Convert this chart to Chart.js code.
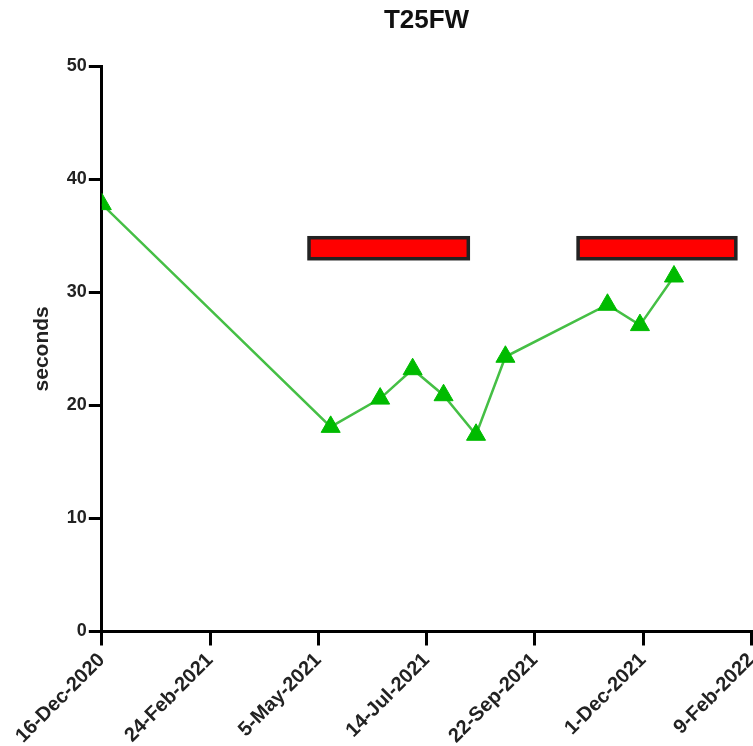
<!DOCTYPE html>
<html>
<head>
<meta charset="utf-8">
<title>T25FW</title>
<script src="https://cdn.jsdelivr.net/npm/chart.js@4.4.1/dist/chart.umd.min.js"></script>
<style>
	body { margin: 0; background: #fff; }
	#wrap { width: 753px; height: 746px; }
</style>
</head>
<body>
<div id="wrap"><canvas id="t25fw-chart" width="753" height="746"></canvas></div>
<script>
	'use strict';

	// visits and timed 25 foot walk (seconds)
	const visitDates = [
		'2020-12-16', '2021-05-13', '2021-06-14', '2021-07-05', '2021-07-25',
		'2021-08-15', '2021-09-03', '2021-11-08', '2021-11-29', '2021-12-21'
	];
	const walkSeconds = [37.8, 18.1, 20.6, 23.2, 20.9, 17.4, 24.3, 28.9, 27.1, 31.4];

	// treatment periods (red bars)
	const treatmentStart = ['2021-04-29', '2021-10-20'];
	const treatmentEnd = ['2021-08-10', '2022-01-30'];
	const treatmentLevel = 33.9;

	// x axis tick labels, one every 70 days from the first visit
	const tickLabels = ['16-Dec-2020', '24-Feb-2021', '5-May-2021', '14-Jul-2021', '22-Sep-2021', '1-Dec-2021', '9-Feb-2022'];
	const tickStep = 70;
	const yTicks = [0, 10, 20, 30, 40, 50];

	const startDay = Date.parse(visitDates[0]);
	function dayOf(s) {
		return (Date.parse(s) - startDay) / 86400000;
	}

	const points = visitDates.map(function(d, i) {
		return { x: dayOf(d), y: walkSeconds[i] };
	});

	// draws the treatment bars through the chart scales
	const treatmentBars = {
		id: 'treatmentBars',
		afterDatasetsDraw: function(chart) {
			const ctx = chart.ctx;
			const xs = chart.scales.x;
			const ys = chart.scales.y;
			const yc = ys.getPixelForValue(treatmentLevel);
			ctx.save();
			for (let i = 0; i < treatmentStart.length; i++) {
				const x1 = xs.getPixelForValue(dayOf(treatmentStart[i]));
				const x2 = xs.getPixelForValue(dayOf(treatmentEnd[i]));
				ctx.fillStyle = '#ff0000';
				ctx.strokeStyle = '#222';
				ctx.lineWidth = 3.5;
				ctx.fillRect(x1, yc - 10.5, x2 - x1, 21);
				ctx.strokeRect(x1, yc - 10.5, x2 - x1, 21);
			}
			ctx.restore();
		}
	};

	Chart.defaults.font.family = '"Liberation Sans", Arial, sans-serif';
	Chart.defaults.color = '#222';

	new Chart(document.getElementById('t25fw-chart'), {
		type: 'line',
		data: {
			datasets: [{
				data: points,
				borderColor: '#45bf45',
				borderWidth: 2.5,
				pointStyle: 'triangle',
				pointRadius: 11,
				pointBackgroundColor: '#00bb00',
				pointBorderColor: '#00bb00',
				pointBorderWidth: 1,
				tension: 0
			}]
		},
		options: {
			responsive: false,
			animation: false,
			events: [],
			layout: { padding: 0, autoPadding: false },
			plugins: {
				legend: { display: false },
				tooltip: { enabled: false },
				title: {
					display: true,
					fullSize: false,
					text: 'T25FW',
					color: '#111',
					font: { size: 26, weight: 'bold' },
					padding: { top: 5, bottom: 30 }
				}
			},
			scales: {
				x: {
					type: 'linear',
					min: 0,
					max: tickStep * (tickLabels.length - 1),
					border: { display: true, color: '#000', width: 3 },
					grid: { drawOnChartArea: false, drawTicks: true, tickLength: 14, color: '#000', lineWidth: 3 },
					ticks: {
						stepSize: tickStep,
						autoSkip: false,
						minRotation: 45,
						maxRotation: 45,
						padding: 3,
						font: { size: 20, weight: 'bold' },
						callback: function(v) {
							return tickLabels[Math.round(v / tickStep)];
						}
					},
					afterFit: function(scale) {
						scale.height = 114.5;
						scale.paddingRight = 1.7;
					}
				},
				y: {
					min: yTicks[0],
					max: yTicks[yTicks.length - 1],
					border: { display: true, color: '#000', width: 3 },
					grid: { drawOnChartArea: false, drawTicks: true, tickLength: 13, color: '#000', lineWidth: 3 },
					ticks: {
						stepSize: 10,
						padding: 2,
						font: { size: 18, weight: 'bold' }
					},
					title: {
						display: true,
						text: 'seconds',
						color: '#222',
						font: { size: 21, weight: 'bold' },
						padding: { top: 30, bottom: 0 }
					},
					afterFit: function(scale) {
						scale.width = 101.8;
					}
				}
			}
		},
		plugins: [treatmentBars]
	});
</script>
</body>
</html>
